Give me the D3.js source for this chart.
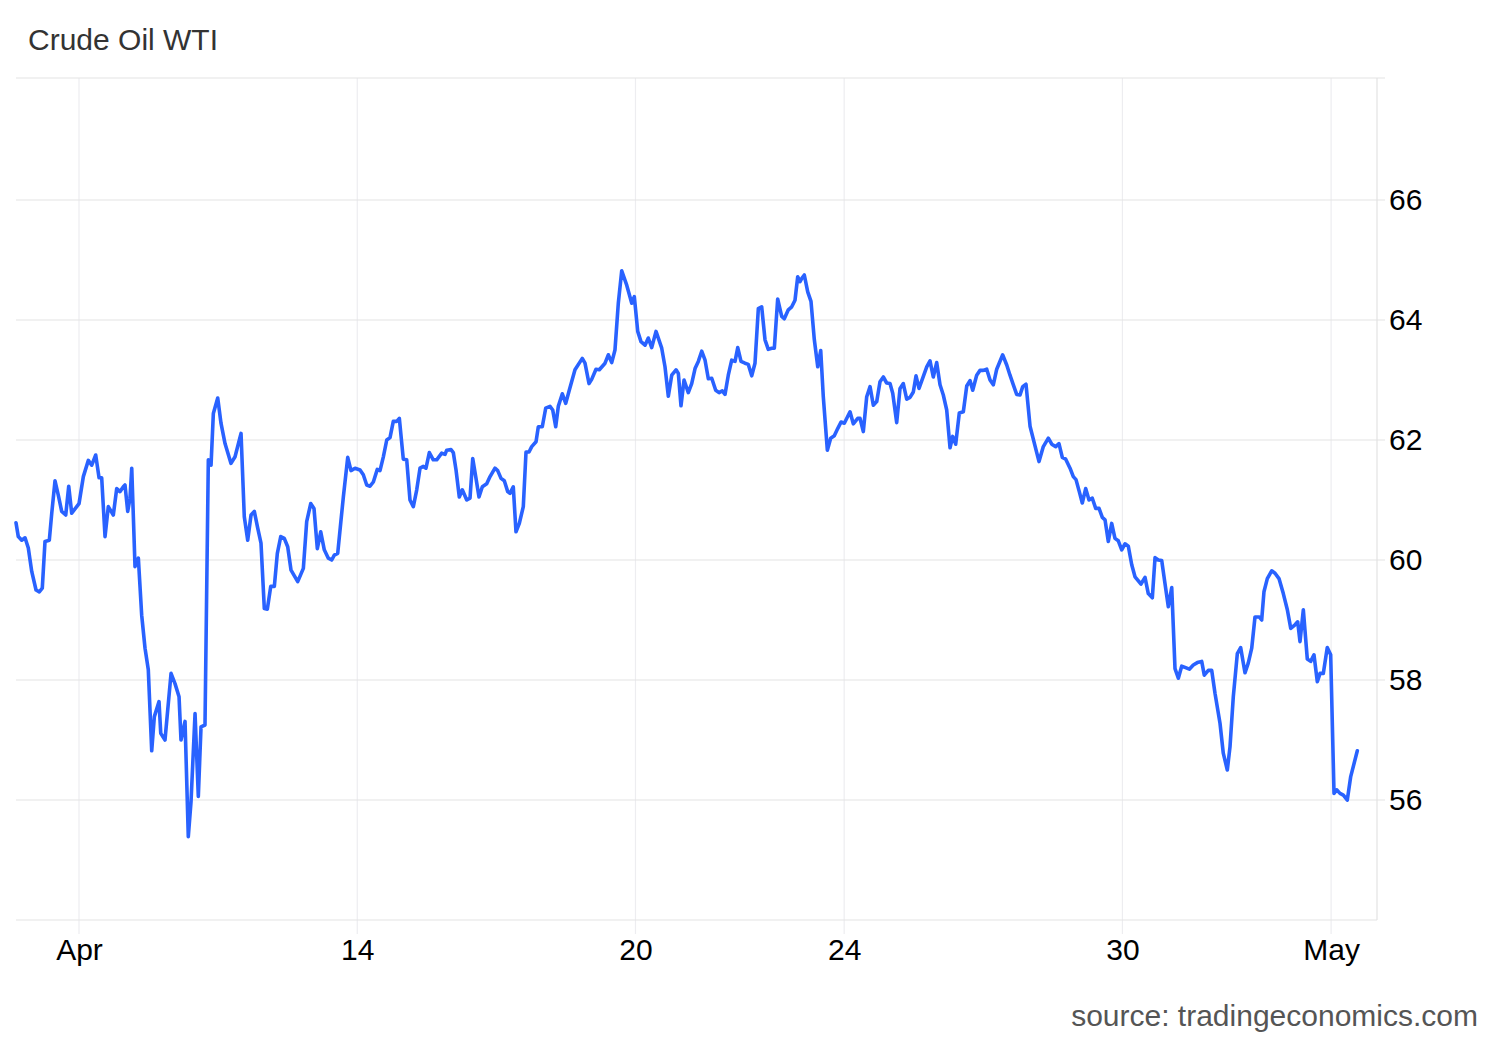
<!DOCTYPE html>
<html><head><meta charset="utf-8">
<script src="https://cdn.jsdelivr.net/npm/d3@7/dist/d3.min.js"></script>
<style>
html,body{margin:0;padding:0;background:#fff;}
svg{display:block;font-family:"Liberation Sans",Arial,sans-serif;}
</style></head><body>
<svg id="chart" width="1500" height="1040"></svg>
<script>
// time in trading-day units (0 = "Apr" tick), price in USD/bbl
const times = [-0.906,-0.873,-0.824,-0.776,-0.729,-0.680,-0.618,-0.571,-0.528,-0.489,-0.427,-0.392,-0.345,-0.298,-0.249,-0.191,-0.148,-0.105,-0.033,0.000,0.062,0.134,0.183,0.240,0.288,0.326,0.374,0.421,0.493,0.542,0.589,0.637,0.661,0.700,0.733,0.758,0.805,0.853,0.901,0.949,0.996,1.045,1.083,1.150,1.175,1.236,1.323,1.380,1.438,1.466,1.524,1.571,1.610,1.668,1.715,1.754,1.811,1.859,1.898,1.931,1.994,2.041,2.099,2.185,2.243,2.329,2.376,2.425,2.473,2.520,2.569,2.616,2.664,2.707,2.756,2.808,2.851,2.900,2.951,3.000,3.048,3.144,3.225,3.273,3.331,3.378,3.426,3.475,3.526,3.584,3.633,3.670,3.719,3.767,3.800,3.863,3.910,3.968,4.040,4.087,4.136,4.183,4.231,4.288,4.327,4.375,4.424,4.471,4.518,4.567,4.605,4.662,4.711,4.758,4.806,4.855,4.902,4.950,4.988,5.036,5.093,5.142,5.214,5.262,5.286,5.348,5.381,5.420,5.467,5.510,5.574,5.621,5.660,5.703,5.750,5.798,5.861,5.909,5.980,6.019,6.067,6.114,6.163,6.196,6.243,6.282,6.330,6.387,6.426,6.469,6.508,6.570,6.603,6.660,6.709,6.771,6.810,6.853,6.890,6.948,6.997,7.048,7.130,7.235,7.274,7.332,7.370,7.432,7.480,7.562,7.609,7.658,7.705,7.753,7.802,7.874,7.946,7.983,8.032,8.079,8.137,8.184,8.233,8.295,8.377,8.424,8.472,8.521,8.583,8.616,8.654,8.698,8.759,8.808,8.856,8.903,8.952,9.000,9.047,9.096,9.153,9.201,9.248,9.287,9.334,9.383,9.431,9.470,9.517,9.574,9.622,9.671,9.718,9.766,9.814,9.862,9.909,9.958,9.996,10.044,10.102,10.139,10.197,10.246,10.293,10.332,10.365,10.389,10.427,10.476,10.523,10.571,10.620,10.663,10.700,10.758,10.806,10.858,10.907,10.955,11.002,11.084,11.131,11.195,11.228,11.275,11.324,11.372,11.419,11.468,11.515,11.563,11.611,11.659,11.698,11.755,11.803,11.850,11.899,11.947,11.994,12.033,12.076,12.129,12.187,12.234,12.281,12.330,12.378,12.425,12.474,12.522,12.560,12.603,12.655,12.713,12.762,12.809,12.848,12.905,12.953,13.000,13.049,13.097,13.144,13.193,13.279,13.337,13.384,13.432,13.480,13.528,13.567,13.614,13.672,13.801,13.863,13.935,13.984,14.041,14.088,14.136,14.185,14.247,14.294,14.333,14.380,14.423,14.472,14.520,14.567,14.616,14.664,14.711,14.750,14.797,14.846,14.893,14.941,14.990,15.037,15.085,15.134,15.181,15.267,15.325,15.372,15.430,15.469,15.516,15.565,15.612,15.660,15.709,15.756,15.804,15.852,15.900,15.962,16.019,16.077,16.140,16.177,16.235,16.284,16.331,16.403,16.450,16.508,16.547,16.594,16.652,16.700,16.762,16.809,16.859,16.906,16.968,17.002,17.035,17.083,17.146,17.194,17.251,17.313,17.371,17.420,17.481,17.520,17.553,17.601,17.658,17.707,17.754,17.802,17.841,17.888,17.945,17.994,18.042,18.080,18.128,18.176,18.233,18.282,18.377];
const prices = [60.62,60.39,60.33,60.37,60.20,59.81,59.50,59.47,59.53,60.31,60.33,60.78,61.32,61.08,60.81,60.75,61.23,60.78,60.89,60.94,61.39,61.66,61.58,61.75,61.37,61.37,60.39,60.89,60.75,61.19,61.14,61.22,61.25,60.81,61.03,61.53,59.89,60.03,59.08,58.53,58.17,56.82,57.39,57.64,57.11,57.00,58.11,57.94,57.72,57.00,57.31,55.39,55.97,57.44,56.06,57.22,57.25,61.67,61.58,62.44,62.70,62.28,61.94,61.61,61.72,62.11,60.72,60.33,60.75,60.81,60.53,60.28,59.19,59.18,59.56,59.56,60.11,60.39,60.36,60.22,59.83,59.64,59.86,60.64,60.94,60.86,60.19,60.47,60.17,60.03,60.00,60.08,60.11,60.67,61.05,61.71,61.49,61.53,61.50,61.42,61.25,61.23,61.30,61.51,61.49,61.72,62.00,62.04,62.31,62.31,62.36,61.68,61.67,61.00,60.89,61.17,61.53,61.56,61.53,61.79,61.67,61.67,61.78,61.76,61.83,61.84,61.79,61.50,61.05,61.17,61.00,61.03,61.69,61.39,61.05,61.22,61.27,61.39,61.53,61.49,61.36,61.32,61.14,61.11,61.22,60.47,60.61,60.89,61.80,61.80,61.89,61.97,62.22,62.22,62.53,62.56,62.50,62.22,62.56,62.77,62.61,62.83,63.17,63.36,63.28,62.94,63.01,63.18,63.17,63.28,63.42,63.29,63.50,64.28,64.82,64.58,64.28,64.39,63.81,63.64,63.58,63.70,63.54,63.81,63.53,63.22,62.73,63.08,63.17,63.11,62.57,63.00,62.79,62.94,63.19,63.31,63.48,63.33,63.02,63.03,62.83,62.79,62.82,62.76,63.08,63.33,63.31,63.54,63.31,63.28,63.26,63.07,63.28,64.19,64.22,63.67,63.51,63.53,63.53,64.35,64.06,64.02,64.17,64.22,64.33,64.72,64.64,64.69,64.75,64.47,64.31,63.67,63.22,63.49,62.72,61.83,62.03,62.07,62.19,62.30,62.28,62.47,62.27,62.36,62.36,62.14,62.72,62.89,62.58,62.64,62.97,63.05,62.95,62.94,62.78,62.29,62.86,62.94,62.68,62.71,62.80,63.07,62.86,63.03,63.22,63.32,63.05,63.29,62.92,62.75,62.50,61.87,62.06,61.93,62.45,62.47,62.90,62.99,62.83,63.08,63.16,63.16,63.18,63.00,62.92,63.18,63.42,63.25,63.08,62.92,62.76,62.75,62.89,62.93,62.23,61.64,61.89,62.03,61.93,61.89,61.94,61.71,61.68,61.53,61.39,61.34,61.14,60.95,61.19,61.00,61.03,60.86,60.86,60.71,60.67,60.31,60.61,60.36,60.32,60.17,60.27,60.23,59.92,59.72,59.60,59.71,59.44,59.37,60.04,60.00,59.99,59.61,59.22,59.54,58.19,58.03,58.23,58.21,58.18,58.25,58.29,58.31,58.08,58.16,58.16,57.78,57.28,56.78,56.50,56.89,57.72,58.44,58.54,58.12,58.28,58.53,59.05,59.05,59.00,59.47,59.69,59.82,59.78,59.69,59.44,59.17,58.86,58.92,58.97,58.64,59.17,58.35,58.31,58.42,57.97,58.11,58.11,58.54,58.42,56.11,56.17,56.11,56.08,56.00,56.39,56.82];
const xTickTimes = [0, 4, 8, 11, 15, 18];
const xTickLabels = ["Apr", "14", "20", "24", "30", "May"];
const yTicks = [56, 58, 60, 62, 64, 66];
const title = "Crude Oil WTI";
const source = "source: tradingeconomics.com";

const svg = d3.select("#chart");
const L = 16, R = 1377, T = 80, B = 920;
const FS = 30;
const x = d3.scaleLinear().domain([-0.906, 18.66]).range([L, R]);
const y = d3.scaleLinear().domain([54, 68]).range([B, T]);

// vertical grid
svg.append("g").selectAll("line").data(xTickTimes).join("line")
  .attr("x1", d => x(d)).attr("x2", d => x(d))
  .attr("y1", T - 2).attr("y2", B + 14)
  .attr("stroke", "#ededf0").attr("stroke-width", 1.2);
// horizontal grid
svg.append("g").selectAll("line").data(yTicks).join("line")
  .attr("x1", L).attr("x2", R + 8)
  .attr("y1", d => y(d)).attr("y2", d => y(d))
  .attr("stroke", "#e3e3e3").attr("stroke-width", 1.2);
// frame lines
svg.append("line").attr("x1", L).attr("x2", R + 8).attr("y1", T - 2).attr("y2", T - 2).attr("stroke", "#e3e3e3").attr("stroke-width", 1.2);
svg.append("line").attr("x1", L).attr("x2", R).attr("y1", B).attr("y2", B).attr("stroke", "#e3e3e3").attr("stroke-width", 1.2);
svg.append("line").attr("x1", R).attr("x2", R).attr("y1", T - 2).attr("y2", B).attr("stroke", "#e3e3e3").attr("stroke-width", 1.2);

// axes (labels only)
const xAxis = d3.axisBottom(x).tickValues(xTickTimes).tickFormat((d, i) => xTickLabels[i]).tickSize(0).tickPadding(0);
const gx = svg.append("g").attr("transform", `translate(0,${B + 17})`).call(xAxis);
gx.select(".domain").remove();
gx.selectAll("text").attr("font-size", FS).attr("fill", "#000").attr("dy", "0.75em").attr("font-family", "Liberation Sans, Arial, sans-serif");

const yAxis = d3.axisRight(y).tickValues(yTicks).tickSize(0).tickPadding(0);
const gy = svg.append("g").attr("transform", `translate(${R + 12},0)`).call(yAxis);
gy.select(".domain").remove();
gy.selectAll("text").attr("font-size", FS).attr("fill", "#000").attr("font-family", "Liberation Sans, Arial, sans-serif");

// line
const line = d3.line().x((d, i) => x(times[i])).y(d => y(d));
svg.append("path").datum(prices)
  .attr("d", line)
  .attr("fill", "none").attr("stroke", "#2962ff").attr("stroke-width", 3.6)
  .attr("stroke-linejoin", "round").attr("stroke-linecap", "round");

// title & source
svg.append("text").attr("x", 28).attr("y", 50).text(title)
  .attr("font-size", FS).attr("fill", "#333");
svg.append("text").attr("x", 1478).attr("y", 1026).attr("text-anchor", "end").text(source)
  .attr("font-size", FS).attr("fill", "#555");
</script>
</body></html>
